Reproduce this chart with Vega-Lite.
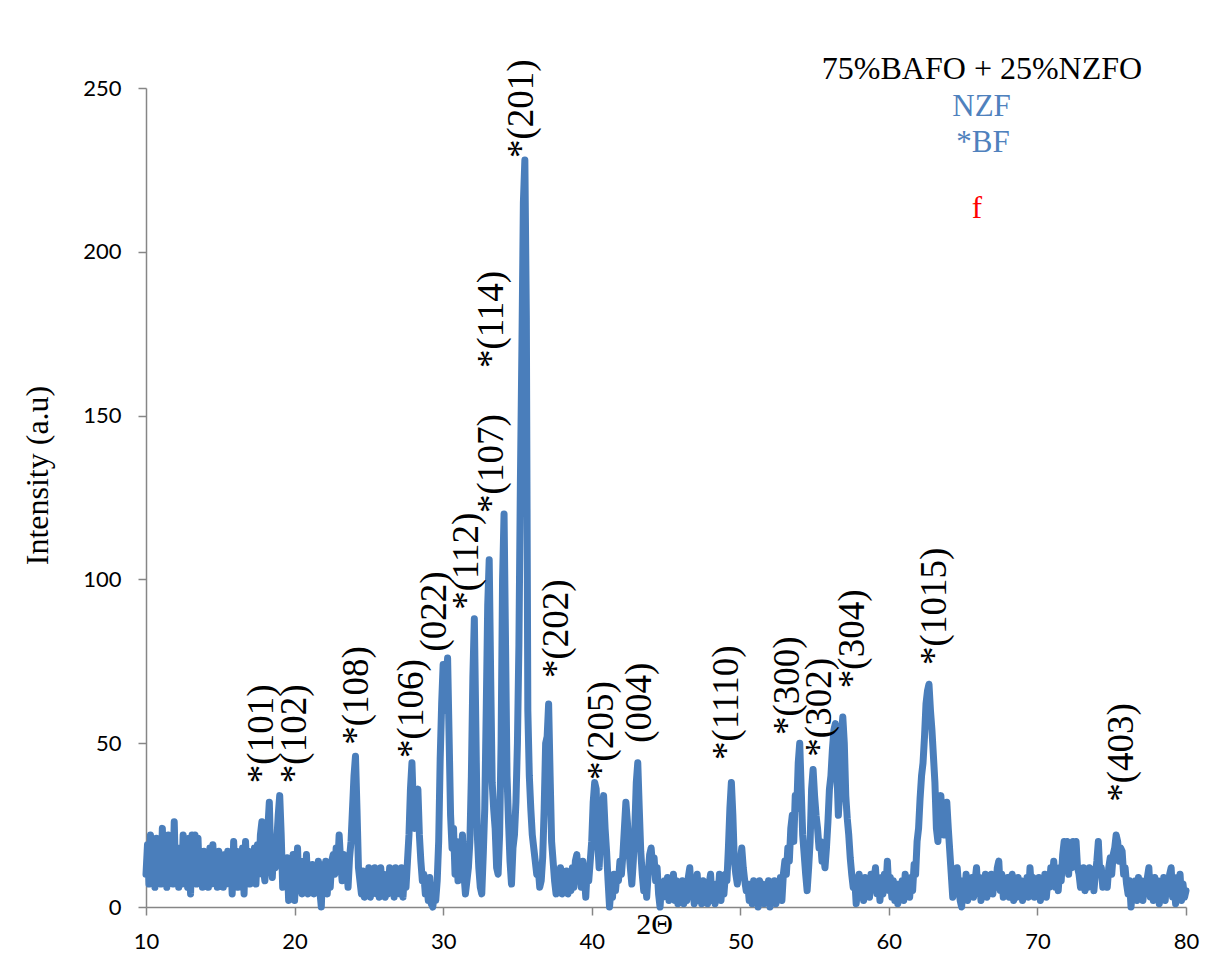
{
  "$schema": "https://vega.github.io/schema/vega-lite/v6.json",
  "width": 1040,
  "height": 819,
  "autosize": {"type": "none"},
  "padding": {"left": 146, "top": 88, "right": 29, "bottom": 56},
  "background": "white",
  "config": {"view": {"stroke": null}},
  "datasets": {
    "xrd": [
      {"deg":10.0,"int":10},{"deg":10.1,"int":19},{"deg":10.2,"int":7},{"deg":10.3,"int":22},{"deg":10.4,"int":8},{"deg":10.5,"int":17},{"deg":10.6,"int":6},{"deg":10.7,"int":21},{"deg":10.8,"int":9},{"deg":10.9,"int":18},
      {"deg":11.0,"int":7},{"deg":11.1,"int":24},{"deg":11.2,"int":8},{"deg":11.3,"int":17},{"deg":11.4,"int":6},{"deg":11.5,"int":22},{"deg":11.6,"int":9},{"deg":11.7,"int":16},{"deg":11.8,"int":7},{"deg":11.9,"int":26},
      {"deg":12.0,"int":8},{"deg":12.1,"int":15},{"deg":12.2,"int":6},{"deg":12.3,"int":18},{"deg":12.4,"int":7},{"deg":12.5,"int":22},{"deg":12.6,"int":9},{"deg":12.7,"int":16},{"deg":12.8,"int":6},{"deg":12.9,"int":21},
      {"deg":13.0,"int":4},{"deg":13.1,"int":22},{"deg":13.2,"int":8},{"deg":13.3,"int":22},{"deg":13.4,"int":7},{"deg":13.5,"int":21},{"deg":13.6,"int":8},{"deg":13.7,"int":15},{"deg":13.8,"int":6},{"deg":13.9,"int":17},
      {"deg":14.0,"int":9},{"deg":14.1,"int":16},{"deg":14.2,"int":6},{"deg":14.3,"int":18},{"deg":14.4,"int":7},{"deg":14.5,"int":19},{"deg":14.6,"int":8},{"deg":14.7,"int":15},{"deg":14.8,"int":6},{"deg":14.9,"int":17},
      {"deg":15.0,"int":9},{"deg":15.1,"int":15},{"deg":15.2,"int":6},{"deg":15.3,"int":16},{"deg":15.4,"int":7},{"deg":15.5,"int":17},{"deg":15.6,"int":8},{"deg":15.7,"int":15},{"deg":15.8,"int":4},{"deg":15.9,"int":20},
      {"deg":16.0,"int":8},{"deg":16.1,"int":17},{"deg":16.2,"int":6},{"deg":16.3,"int":16},{"deg":16.4,"int":9},{"deg":16.5,"int":18},{"deg":16.6,"int":4},{"deg":16.7,"int":20},{"deg":16.8,"int":8},{"deg":16.9,"int":17},
      {"deg":17.0,"int":7},{"deg":17.1,"int":15},{"deg":17.2,"int":9},{"deg":17.3,"int":18},{"deg":17.4,"int":7},{"deg":17.5,"int":19},{"deg":17.6,"int":10},{"deg":17.7,"int":22},{"deg":17.8,"int":26},{"deg":17.9,"int":12},
      {"deg":18.0,"int":8},{"deg":18.1,"int":18},{"deg":18.2,"int":24},{"deg":18.3,"int":32},{"deg":18.4,"int":14},{"deg":18.5,"int":9},{"deg":18.6,"int":19},{"deg":18.7,"int":12},{"deg":18.8,"int":20},{"deg":18.9,"int":28},
      {"deg":19.0,"int":34},{"deg":19.1,"int":22},{"deg":19.2,"int":6},{"deg":19.3,"int":14},{"deg":19.4,"int":8},{"deg":19.5,"int":15},{"deg":19.6,"int":2},{"deg":19.7,"int":12},{"deg":19.8,"int":3},{"deg":19.9,"int":16},
      {"deg":20.0,"int":2},{"deg":20.1,"int":10},{"deg":20.2,"int":18},{"deg":20.3,"int":5},{"deg":20.4,"int":12},{"deg":20.5,"int":4},{"deg":20.6,"int":14},{"deg":20.7,"int":6},{"deg":20.8,"int":16},{"deg":20.9,"int":4},
      {"deg":21.0,"int":11},{"deg":21.1,"int":5},{"deg":21.2,"int":13},{"deg":21.3,"int":4},{"deg":21.4,"int":12},{"deg":21.5,"int":6},{"deg":21.6,"int":14},{"deg":21.7,"int":5},{"deg":21.8,"int":0},{"deg":21.9,"int":13},
      {"deg":22.0,"int":5},{"deg":22.1,"int":14},{"deg":22.2,"int":4},{"deg":22.3,"int":12},{"deg":22.4,"int":6},{"deg":22.5,"int":14},{"deg":22.6,"int":16},{"deg":22.7,"int":10},{"deg":22.8,"int":18},{"deg":22.9,"int":12},
      {"deg":23.0,"int":22},{"deg":23.1,"int":14},{"deg":23.2,"int":8},{"deg":23.3,"int":16},{"deg":23.4,"int":10},{"deg":23.5,"int":13},{"deg":23.6,"int":6},{"deg":23.7,"int":15},{"deg":23.8,"int":20},{"deg":23.9,"int":30},
      {"deg":24.0,"int":40},{"deg":24.1,"int":46},{"deg":24.2,"int":30},{"deg":24.3,"int":12},{"deg":24.4,"int":8},{"deg":24.5,"int":4},{"deg":24.6,"int":11},{"deg":24.7,"int":3},{"deg":24.8,"int":10},{"deg":24.9,"int":4},
      {"deg":25.0,"int":12},{"deg":25.1,"int":3},{"deg":25.2,"int":9},{"deg":25.3,"int":5},{"deg":25.4,"int":12},{"deg":25.5,"int":4},{"deg":25.6,"int":10},{"deg":25.7,"int":3},{"deg":25.8,"int":12},{"deg":25.9,"int":5},
      {"deg":26.0,"int":10},{"deg":26.1,"int":3},{"deg":26.2,"int":9},{"deg":26.3,"int":4},{"deg":26.4,"int":12},{"deg":26.5,"int":6},{"deg":26.6,"int":11},{"deg":26.7,"int":3},{"deg":26.8,"int":12},{"deg":26.9,"int":5},
      {"deg":27.0,"int":10},{"deg":27.1,"int":4},{"deg":27.2,"int":12},{"deg":27.3,"int":3},{"deg":27.4,"int":11},{"deg":27.5,"int":6},{"deg":27.6,"int":14},{"deg":27.7,"int":22},{"deg":27.8,"int":36},{"deg":27.9,"int":44},
      {"deg":28.0,"int":30},{"deg":28.1,"int":24},{"deg":28.2,"int":34},{"deg":28.3,"int":36},{"deg":28.4,"int":22},{"deg":28.5,"int":14},{"deg":28.6,"int":8},{"deg":28.7,"int":10},{"deg":28.8,"int":4},{"deg":28.9,"int":7},
      {"deg":29.0,"int":2},{"deg":29.1,"int":9},{"deg":29.2,"int":1},{"deg":29.3,"int":0},{"deg":29.4,"int":4},{"deg":29.5,"int":2},{"deg":29.6,"int":8},{"deg":29.7,"int":20},{"deg":29.8,"int":45},{"deg":29.9,"int":62},
      {"deg":30.0,"int":74},{"deg":30.1,"int":60},{"deg":30.2,"int":70},{"deg":30.3,"int":76},{"deg":30.4,"int":52},{"deg":30.5,"int":28},{"deg":30.6,"int":18},{"deg":30.7,"int":24},{"deg":30.8,"int":10},{"deg":30.9,"int":20},
      {"deg":31.0,"int":8},{"deg":31.1,"int":18},{"deg":31.2,"int":12},{"deg":31.3,"int":22},{"deg":31.4,"int":10},{"deg":31.5,"int":4},{"deg":31.6,"int":8},{"deg":31.7,"int":12},{"deg":31.8,"int":20},{"deg":31.9,"int":40},
      {"deg":32.0,"int":70},{"deg":32.1,"int":88},{"deg":32.2,"int":55},{"deg":32.3,"int":22},{"deg":32.4,"int":12},{"deg":32.5,"int":6},{"deg":32.6,"int":4},{"deg":32.7,"int":16},{"deg":32.8,"int":30},{"deg":32.9,"int":60},
      {"deg":33.0,"int":92},{"deg":33.1,"int":106},{"deg":33.2,"int":70},{"deg":33.3,"int":38},{"deg":33.4,"int":30},{"deg":33.5,"int":24},{"deg":33.6,"int":12},{"deg":33.7,"int":10},{"deg":33.8,"int":22},{"deg":33.9,"int":50},
      {"deg":34.0,"int":100},{"deg":34.1,"int":120},{"deg":34.2,"int":80},{"deg":34.3,"int":40},{"deg":34.4,"int":26},{"deg":34.5,"int":14},{"deg":34.6,"int":7},{"deg":34.7,"int":18},{"deg":34.8,"int":22},{"deg":34.9,"int":32},
      {"deg":35.0,"int":50},{"deg":35.1,"int":80},{"deg":35.2,"int":130},{"deg":35.3,"int":170},{"deg":35.4,"int":215},{"deg":35.5,"int":228},{"deg":35.6,"int":180},{"deg":35.7,"int":60},{"deg":35.8,"int":40},{"deg":35.9,"int":30},
      {"deg":36.0,"int":22},{"deg":36.1,"int":18},{"deg":36.2,"int":14},{"deg":36.3,"int":10},{"deg":36.4,"int":12},{"deg":36.5,"int":6},{"deg":36.6,"int":8},{"deg":36.7,"int":15},{"deg":36.8,"int":30},{"deg":36.9,"int":50},
      {"deg":37.0,"int":52},{"deg":37.1,"int":62},{"deg":37.2,"int":40},{"deg":37.3,"int":20},{"deg":37.4,"int":14},{"deg":37.5,"int":8},{"deg":37.6,"int":4},{"deg":37.7,"int":10},{"deg":37.8,"int":5},{"deg":37.9,"int":12},
      {"deg":38.0,"int":4},{"deg":38.1,"int":10},{"deg":38.2,"int":5},{"deg":38.3,"int":11},{"deg":38.4,"int":4},{"deg":38.5,"int":9},{"deg":38.6,"int":5},{"deg":38.7,"int":12},{"deg":38.8,"int":6},{"deg":38.9,"int":14},
      {"deg":39.0,"int":16},{"deg":39.1,"int":8},{"deg":39.2,"int":12},{"deg":39.3,"int":6},{"deg":39.4,"int":14},{"deg":39.5,"int":10},{"deg":39.6,"int":3},{"deg":39.7,"int":12},{"deg":39.8,"int":8},{"deg":39.9,"int":14},
      {"deg":40.0,"int":20},{"deg":40.1,"int":32},{"deg":40.2,"int":38},{"deg":40.3,"int":36},{"deg":40.4,"int":20},{"deg":40.5,"int":12},{"deg":40.6,"int":22},{"deg":40.7,"int":30},{"deg":40.8,"int":34},{"deg":40.9,"int":24},
      {"deg":41.0,"int":17},{"deg":41.1,"int":8},{"deg":41.2,"int":0},{"deg":41.3,"int":6},{"deg":41.4,"int":3},{"deg":41.5,"int":10},{"deg":41.6,"int":5},{"deg":41.7,"int":10},{"deg":41.8,"int":8},{"deg":41.9,"int":14},
      {"deg":42.0,"int":10},{"deg":42.1,"int":16},{"deg":42.2,"int":24},{"deg":42.3,"int":32},{"deg":42.4,"int":26},{"deg":42.5,"int":18},{"deg":42.6,"int":12},{"deg":42.7,"int":7},{"deg":42.8,"int":14},{"deg":42.9,"int":24},
      {"deg":43.0,"int":38},{"deg":43.1,"int":44},{"deg":43.2,"int":30},{"deg":43.3,"int":17},{"deg":43.4,"int":10},{"deg":43.5,"int":5},{"deg":43.6,"int":8},{"deg":43.7,"int":3},{"deg":43.8,"int":10},{"deg":43.9,"int":16},
      {"deg":44.0,"int":18},{"deg":44.1,"int":12},{"deg":44.2,"int":15},{"deg":44.3,"int":8},{"deg":44.4,"int":12},{"deg":44.5,"int":4},{"deg":44.6,"int":0},{"deg":44.7,"int":7},{"deg":44.8,"int":3},{"deg":44.9,"int":8},
      {"deg":45.0,"int":5},{"deg":45.1,"int":9},{"deg":45.2,"int":2},{"deg":45.3,"int":7},{"deg":45.4,"int":3},{"deg":45.5,"int":10},{"deg":45.6,"int":2},{"deg":45.7,"int":8},{"deg":45.8,"int":1},{"deg":45.9,"int":7},
      {"deg":46.0,"int":3},{"deg":46.1,"int":8},{"deg":46.2,"int":1},{"deg":46.3,"int":6},{"deg":46.4,"int":2},{"deg":46.5,"int":9},{"deg":46.6,"int":12},{"deg":46.7,"int":3},{"deg":46.8,"int":7},{"deg":46.9,"int":1},
      {"deg":47.0,"int":6},{"deg":47.1,"int":10},{"deg":47.2,"int":2},{"deg":47.3,"int":7},{"deg":47.4,"int":1},{"deg":47.5,"int":8},{"deg":47.6,"int":3},{"deg":47.7,"int":6},{"deg":47.8,"int":1},{"deg":47.9,"int":7},
      {"deg":48.0,"int":10},{"deg":48.1,"int":2},{"deg":48.2,"int":6},{"deg":48.3,"int":1},{"deg":48.4,"int":7},{"deg":48.5,"int":3},{"deg":48.6,"int":10},{"deg":48.7,"int":2},{"deg":48.8,"int":8},{"deg":48.9,"int":4},
      {"deg":49.0,"int":10},{"deg":49.1,"int":8},{"deg":49.2,"int":18},{"deg":49.3,"int":30},{"deg":49.4,"int":38},{"deg":49.5,"int":28},{"deg":49.6,"int":14},{"deg":49.7,"int":10},{"deg":49.8,"int":7},{"deg":49.9,"int":12},
      {"deg":50.0,"int":14},{"deg":50.1,"int":18},{"deg":50.2,"int":12},{"deg":50.3,"int":8},{"deg":50.4,"int":5},{"deg":50.5,"int":7},{"deg":50.6,"int":2},{"deg":50.7,"int":7},{"deg":50.8,"int":1},{"deg":50.9,"int":8},
      {"deg":51.0,"int":3},{"deg":51.1,"int":6},{"deg":51.2,"int":0},{"deg":51.3,"int":8},{"deg":51.4,"int":2},{"deg":51.5,"int":7},{"deg":51.6,"int":1},{"deg":51.7,"int":6},{"deg":51.8,"int":3},{"deg":51.9,"int":8},
      {"deg":52.0,"int":0},{"deg":52.1,"int":7},{"deg":52.2,"int":2},{"deg":52.3,"int":8},{"deg":52.4,"int":1},{"deg":52.5,"int":6},{"deg":52.6,"int":4},{"deg":52.7,"int":9},{"deg":52.8,"int":2},{"deg":52.9,"int":10},
      {"deg":53.0,"int":14},{"deg":53.1,"int":10},{"deg":53.2,"int":18},{"deg":53.3,"int":14},{"deg":53.4,"int":24},{"deg":53.5,"int":28},{"deg":53.6,"int":20},{"deg":53.7,"int":34},{"deg":53.8,"int":30},{"deg":53.9,"int":44},
      {"deg":54.0,"int":50},{"deg":54.1,"int":36},{"deg":54.2,"int":22},{"deg":54.3,"int":16},{"deg":54.4,"int":10},{"deg":54.5,"int":5},{"deg":54.6,"int":12},{"deg":54.7,"int":20},{"deg":54.8,"int":36},{"deg":54.9,"int":42},
      {"deg":55.0,"int":34},{"deg":55.1,"int":28},{"deg":55.2,"int":24},{"deg":55.3,"int":18},{"deg":55.4,"int":20},{"deg":55.5,"int":14},{"deg":55.6,"int":16},{"deg":55.7,"int":12},{"deg":55.8,"int":18},{"deg":55.9,"int":26},
      {"deg":56.0,"int":36},{"deg":56.1,"int":40},{"deg":56.2,"int":48},{"deg":56.3,"int":54},{"deg":56.4,"int":56},{"deg":56.5,"int":42},{"deg":56.6,"int":28},{"deg":56.7,"int":36},{"deg":56.8,"int":52},{"deg":56.9,"int":58},
      {"deg":57.0,"int":50},{"deg":57.1,"int":34},{"deg":57.2,"int":27},{"deg":57.3,"int":22},{"deg":57.4,"int":15},{"deg":57.5,"int":10},{"deg":57.6,"int":6},{"deg":57.7,"int":9},{"deg":57.8,"int":1},{"deg":57.9,"int":5},
      {"deg":58.0,"int":10},{"deg":58.1,"int":4},{"deg":58.2,"int":8},{"deg":58.3,"int":2},{"deg":58.4,"int":9},{"deg":58.5,"int":4},{"deg":58.6,"int":8},{"deg":58.7,"int":3},{"deg":58.8,"int":10},{"deg":58.9,"int":5},
      {"deg":59.0,"int":8},{"deg":59.1,"int":12},{"deg":59.2,"int":4},{"deg":59.3,"int":8},{"deg":59.4,"int":2},{"deg":59.5,"int":9},{"deg":59.6,"int":4},{"deg":59.7,"int":10},{"deg":59.8,"int":6},{"deg":59.9,"int":14},
      {"deg":60.0,"int":5},{"deg":60.1,"int":9},{"deg":60.2,"int":3},{"deg":60.3,"int":8},{"deg":60.4,"int":2},{"deg":60.5,"int":7},{"deg":60.6,"int":1},{"deg":60.7,"int":7},{"deg":60.8,"int":3},{"deg":60.9,"int":8},
      {"deg":61.0,"int":2},{"deg":61.1,"int":10},{"deg":61.2,"int":4},{"deg":61.3,"int":8},{"deg":61.4,"int":3},{"deg":61.5,"int":9},{"deg":61.6,"int":5},{"deg":61.7,"int":13},{"deg":61.8,"int":10},{"deg":61.9,"int":20},
      {"deg":62.0,"int":24},{"deg":62.1,"int":33},{"deg":62.2,"int":40},{"deg":62.3,"int":44},{"deg":62.4,"int":52},{"deg":62.5,"int":62},{"deg":62.6,"int":66},{"deg":62.7,"int":68},{"deg":62.8,"int":60},{"deg":62.9,"int":54},
      {"deg":63.0,"int":46},{"deg":63.1,"int":38},{"deg":63.2,"int":24},{"deg":63.3,"int":20},{"deg":63.4,"int":28},{"deg":63.5,"int":34},{"deg":63.6,"int":26},{"deg":63.7,"int":22},{"deg":63.8,"int":28},{"deg":63.9,"int":32},
      {"deg":64.0,"int":24},{"deg":64.1,"int":17},{"deg":64.2,"int":10},{"deg":64.3,"int":3},{"deg":64.4,"int":8},{"deg":64.5,"int":5},{"deg":64.6,"int":12},{"deg":64.7,"int":6},{"deg":64.8,"int":2},{"deg":64.9,"int":0},
      {"deg":65.0,"int":8},{"deg":65.1,"int":3},{"deg":65.2,"int":10},{"deg":65.3,"int":2},{"deg":65.4,"int":8},{"deg":65.5,"int":4},{"deg":65.6,"int":9},{"deg":65.7,"int":3},{"deg":65.8,"int":8},{"deg":65.9,"int":12},
      {"deg":66.0,"int":4},{"deg":66.1,"int":9},{"deg":66.2,"int":2},{"deg":66.3,"int":8},{"deg":66.4,"int":4},{"deg":66.5,"int":10},{"deg":66.6,"int":3},{"deg":66.7,"int":8},{"deg":66.8,"int":5},{"deg":66.9,"int":10},
      {"deg":67.0,"int":4},{"deg":67.1,"int":9},{"deg":67.2,"int":6},{"deg":67.3,"int":12},{"deg":67.4,"int":14},{"deg":67.5,"int":5},{"deg":67.6,"int":10},{"deg":67.7,"int":3},{"deg":67.8,"int":8},{"deg":67.9,"int":4},
      {"deg":68.0,"int":9},{"deg":68.1,"int":3},{"deg":68.2,"int":8},{"deg":68.3,"int":10},{"deg":68.4,"int":2},{"deg":68.5,"int":7},{"deg":68.6,"int":3},{"deg":68.7,"int":9},{"deg":68.8,"int":4},{"deg":68.9,"int":8},
      {"deg":69.0,"int":2},{"deg":69.1,"int":7},{"deg":69.2,"int":4},{"deg":69.3,"int":9},{"deg":69.4,"int":3},{"deg":69.5,"int":12},{"deg":69.6,"int":5},{"deg":69.7,"int":9},{"deg":69.8,"int":3},{"deg":69.9,"int":8},
      {"deg":70.0,"int":4},{"deg":70.1,"int":9},{"deg":70.2,"int":2},{"deg":70.3,"int":8},{"deg":70.4,"int":5},{"deg":70.5,"int":10},{"deg":70.6,"int":3},{"deg":70.7,"int":8},{"deg":70.8,"int":6},{"deg":70.9,"int":12},
      {"deg":71.0,"int":8},{"deg":71.1,"int":14},{"deg":71.2,"int":6},{"deg":71.3,"int":10},{"deg":71.4,"int":5},{"deg":71.5,"int":12},{"deg":71.6,"int":8},{"deg":71.7,"int":16},{"deg":71.8,"int":20},{"deg":71.9,"int":12},
      {"deg":72.0,"int":20},{"deg":72.1,"int":10},{"deg":72.2,"int":19},{"deg":72.3,"int":12},{"deg":72.4,"int":20},{"deg":72.5,"int":14},{"deg":72.6,"int":20},{"deg":72.7,"int":12},{"deg":72.8,"int":10},{"deg":72.9,"int":6},
      {"deg":73.0,"int":7},{"deg":73.1,"int":12},{"deg":73.2,"int":5},{"deg":73.3,"int":10},{"deg":73.4,"int":6},{"deg":73.5,"int":12},{"deg":73.6,"int":8},{"deg":73.7,"int":11},{"deg":73.8,"int":5},{"deg":73.9,"int":10},
      {"deg":74.0,"int":14},{"deg":74.1,"int":20},{"deg":74.2,"int":10},{"deg":74.3,"int":12},{"deg":74.4,"int":6},{"deg":74.5,"int":7},{"deg":74.6,"int":10},{"deg":74.7,"int":6},{"deg":74.8,"int":12},{"deg":74.9,"int":15},
      {"deg":75.0,"int":10},{"deg":75.1,"int":16},{"deg":75.2,"int":18},{"deg":75.3,"int":22},{"deg":75.4,"int":20},{"deg":75.5,"int":14},{"deg":75.6,"int":18},{"deg":75.7,"int":17},{"deg":75.8,"int":10},{"deg":75.9,"int":12},
      {"deg":76.0,"int":7},{"deg":76.1,"int":4},{"deg":76.2,"int":8},{"deg":76.3,"int":0},{"deg":76.4,"int":6},{"deg":76.5,"int":3},{"deg":76.6,"int":8},{"deg":76.7,"int":2},{"deg":76.8,"int":9},{"deg":76.9,"int":4},
      {"deg":77.0,"int":8},{"deg":77.1,"int":2},{"deg":77.2,"int":7},{"deg":77.3,"int":4},{"deg":77.4,"int":9},{"deg":77.5,"int":12},{"deg":77.6,"int":3},{"deg":77.7,"int":8},{"deg":77.8,"int":2},{"deg":77.9,"int":9},
      {"deg":78.0,"int":4},{"deg":78.1,"int":8},{"deg":78.2,"int":1},{"deg":78.3,"int":7},{"deg":78.4,"int":3},{"deg":78.5,"int":9},{"deg":78.6,"int":2},{"deg":78.7,"int":8},{"deg":78.8,"int":4},{"deg":78.9,"int":10},
      {"deg":79.0,"int":12},{"deg":79.1,"int":3},{"deg":79.2,"int":8},{"deg":79.3,"int":1},{"deg":79.4,"int":9},{"deg":79.5,"int":4},{"deg":79.6,"int":10},{"deg":79.7,"int":2},{"deg":79.8,"int":7},{"deg":79.9,"int":3},
      {"deg":80.0,"int":5}
    ],
    "peaks": [
      {"deg":17.81,"int":37.8,"label":"*(101)"},
      {"deg":20.03,"int":37.8,"label":"*(102)"},
      {"deg":24.18,"int":49.5,"label":"*(108)"},
      {"deg":27.88,"int":45.5,"label":"*(106)"},
      {"deg":29.45,"int":78.0,"label":"(022)"},
      {"deg":31.59,"int":90.7,"label":"*(112)"},
      {"deg":33.27,"int":120.3,"label":"*(107)"},
      {"deg":33.29,"int":164.5,"label":"*(114)"},
      {"deg":35.31,"int":228.6,"label":"*(201)"},
      {"deg":37.64,"int":69.9,"label":"*(202)"},
      {"deg":40.67,"int":38.8,"label":"*(205)"},
      {"deg":43.25,"int":50.1,"label":"(004)"},
      {"deg":49.09,"int":44.9,"label":"*(1110)"},
      {"deg":53.23,"int":52.5,"label":"*(300)"},
      {"deg":55.37,"int":45.9,"label":"*(302)"},
      {"deg":57.61,"int":66.8,"label":"*(304)"},
      {"deg":63.11,"int":73.9,"label":"*(1015)"},
      {"deg":75.67,"int":32.1,"label":"*(403)"}
    ],
    "legendBlack": [
      {"deg":66.27,"int":252.7,"label":"75%BAFO + 25%NZFO"}
    ],
    "legendBlue": [
      {"deg":66.24,"int":241.5,"label":"NZF"},
      {"deg":66.33,"int":230.6,"label":"*BF"}
    ],
    "legendRed": [
      {"deg":65.93,"int":210.3,"label":"f"}
    ]
  },
  "encoding": {
    "x": {
      "field": "deg",
      "type": "quantitative",
      "scale": {"domain": [10, 80], "nice": false, "zero": false},
      "axis": {
        "values": [10, 20, 30, 40, 50, 60, 70, 80],
        "grid": false,
        "title": "2Θ",
        "titleFont": "Liberation Serif",
        "titleFontSize": 30,
        "titleFontWeight": "normal",
        "titleColor": "black",
        "titleX": 508,
        "titleY": 26,
        "titleAlign": "center",
        "titleBaseline": "alphabetic",
        "domainColor": "#868686",
        "domainWidth": 1.5,
        "tickColor": "#868686",
        "tickWidth": 1.5,
        "tickSize": 8,
        "labelFont": "Lato",
        "labelFontSize": 22,
        "labelColor": "black",
        "labelPadding": 16,
        "labelFlush": false,
        "labelOverlap": false
      }
    },
    "y": {
      "field": "int",
      "type": "quantitative",
      "scale": {"domain": [0, 250], "nice": false},
      "axis": {
        "values": [0, 50, 100, 150, 200, 250],
        "grid": false,
        "title": "Intensity (a.u)",
        "titleFont": "Liberation Serif",
        "titleFontSize": 32,
        "titleFontWeight": "normal",
        "titleColor": "black",
        "titleAngle": 270,
        "titleX": -99,
        "titleY": 387,
        "titleAlign": "center",
        "titleBaseline": "alphabetic",
        "domainColor": "#868686",
        "domainWidth": 1.5,
        "tickColor": "#868686",
        "tickWidth": 1.5,
        "tickSize": 8,
        "labelFont": "Lato",
        "labelFontSize": 22,
        "labelColor": "black",
        "labelPadding": 17,
        "labelFlush": false,
        "labelOverlap": false
      }
    }
  },
  "layer": [
    {
      "data": {"name": "xrd"},
      "mark": {"type": "line", "color": "#4A7EBB", "strokeWidth": 7, "strokeJoin": "round", "strokeCap": "round", "clip": false}
    },
    {
      "data": {"name": "peaks"},
      "mark": {"type": "text", "angle": 270, "align": "left", "baseline": "middle", "font": "Liberation Serif", "fontSize": 37, "color": "black"},
      "encoding": {"text": {"field": "label", "type": "nominal"}}
    },
    {
      "data": {"name": "legendBlack"},
      "mark": {"type": "text", "align": "center", "baseline": "alphabetic", "font": "Liberation Serif", "fontSize": 32, "color": "black"},
      "encoding": {"text": {"field": "label", "type": "nominal"}}
    },
    {
      "data": {"name": "legendBlue"},
      "mark": {"type": "text", "align": "center", "baseline": "alphabetic", "font": "Liberation Serif", "fontSize": 31, "color": "#4F81BD"},
      "encoding": {"text": {"field": "label", "type": "nominal"}}
    },
    {
      "data": {"name": "legendRed"},
      "mark": {"type": "text", "align": "center", "baseline": "alphabetic", "font": "Liberation Serif", "fontSize": 31, "color": "#FF0000"},
      "encoding": {"text": {"field": "label", "type": "nominal"}}
    }
  ]
}
